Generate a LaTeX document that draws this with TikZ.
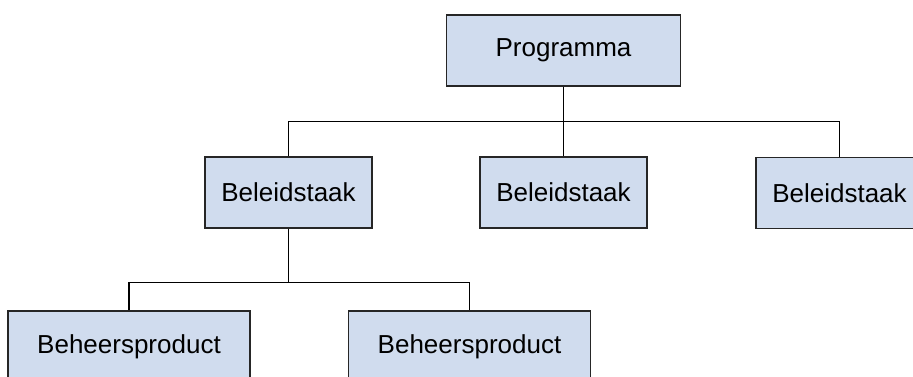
\documentclass[tikz,border=0pt]{standalone}
\usepackage{fontspec}
\setmainfont{Liberation Sans}
\usetikzlibrary{positioning, calc}
\definecolor{boxblue}{RGB}{208,220,238}

\begin{document}
\begin{tikzpicture}[
    x=0.75pt, y=-0.75pt,
    unit/.style={rectangle, draw=black!85, line width=0.9pt, fill=boxblue, minimum width=167*0.75pt, minimum height=71*0.75pt, font=\fontsize{19.5}{23}\selectfont, inner sep=0pt},
    wide/.style={unit, minimum width=242*0.75pt},
    link/.style={draw=black, line width=0.8pt}
]
\useasboundingbox (0,0) rectangle (913,376);

\node[unit, minimum width=234*0.75pt] (prog) at (563.5,50.5) {Programma};

\node[unit] (bel1) at (288.5,192.5) {Beleidstaak};
\node[unit] (bel2) at (563.5,192.5) {Beleidstaak};
\node[unit] (bel3) at (839.5,193) {Beleidstaak};

\node[wide] (beh1) at (129,346.5) {Beheersproduct};
\node[wide] (beh2) at (469.5,346.5) {Beheersproduct};

% buses
\coordinate (bus1) at (563.5,121.5);
\coordinate (bus2) at (288.5,282.5);

\draw[link] (prog) -- (bus1);
\draw[link] (bel1.north) |- (bus1) -| (bel3.north);
\draw[link] (bus1) -- (bel2.north);

\draw[link] (bel1) -- (bus2);
\draw[link] (beh1.north) |- (bus2) -| (beh2.north);
\end{tikzpicture}
\end{document}
